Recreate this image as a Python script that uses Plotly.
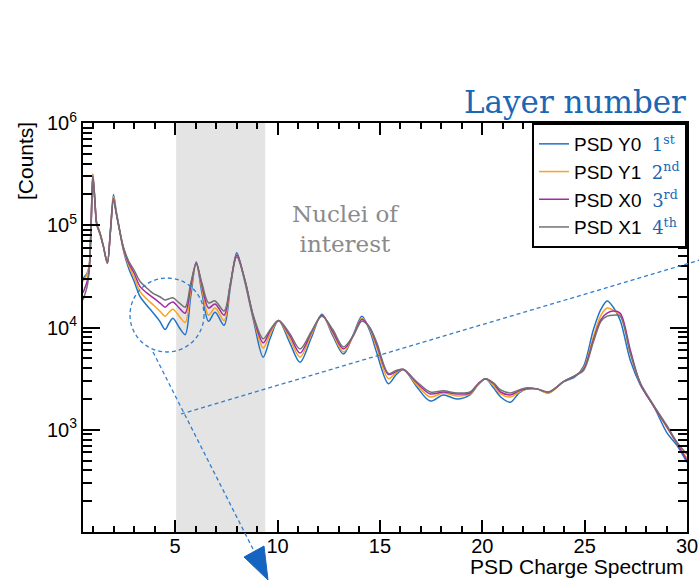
import plotly.graph_objects as go

# PSD charge spectrum per layer (counts per bin, sampled along the charge axis)
charge = [0.5, 0.7, 0.8, 0.9, 0.98, 1.08, 1.17, 1.34, 1.5, 1.69,
          1.84, 1.99, 2.12, 2.23, 2.47, 2.73, 3.0, 3.29, 3.6, 3.94,
          4.25, 4.51, 4.7, 4.89, 5.2, 5.49, 5.76, 6.03, 6.3, 6.63,
          6.95, 7.39, 7.7, 8.01, 8.4, 8.83, 9.3, 9.65, 10.05, 10.6,
          11.1, 11.65, 12.17, 12.7, 13.22, 13.7, 14.12, 14.5, 14.85, 15.42,
          15.8, 16.15, 16.8, 17.46, 18.1, 18.76, 19.4, 19.8, 20.16, 20.55,
          20.9, 21.37, 21.8, 22.18, 22.67, 23.24, 23.97, 24.54, 24.95, 25.43,
          25.8, 26.1, 26.4, 26.74, 27.23, 27.72, 28.37, 29.02, 29.5, 30.0]

psd_y0 = [30200, 33900, 39800, 112000, 316000, 178000, 105000, 83200, 61700, 42700,
          89100, 200000, 138000, 105000, 57500, 38000, 28200, 20000, 16600, 13800,
          11500, 9550, 11000, 12300, 10000, 8510, 20000, 43700, 22400, 11500,
          14100, 10500, 25100, 53700, 28200, 11700, 5130, 7940, 11700, 7080,
          4570, 7940, 13500, 8320, 5500, 8510, 12900, 9330, 5620, 2820,
          3470, 3890, 2630, 1910, 2190, 2000, 2190, 2750, 3160, 2570,
          2090, 1860, 2290, 2510, 2510, 2290, 2950, 3310, 4170, 9550,
          15100, 18200, 15800, 11700, 4790, 2750, 1700, 933, 708, 479]

psd_y1 = [28200, 33100, 39800, 112000, 316000, 174000, 105000, 83200, 61700, 42700,
          89100, 191000, 135000, 102000, 58900, 40700, 30900, 22400, 19100, 16600,
          14500, 12900, 14100, 15100, 12900, 11200, 22900, 42700, 24500, 13200,
          15500, 11700, 26300, 51300, 28800, 12300, 6310, 8710, 11700, 7760,
          5130, 8510, 13200, 8710, 5750, 8320, 12300, 9770, 6310, 3160,
          3630, 3890, 2750, 2090, 2290, 2140, 2240, 2750, 3160, 2690,
          2240, 2090, 2340, 2510, 2510, 2290, 2950, 3390, 3980, 8130,
          13200, 15500, 14800, 13200, 5620, 2820, 1700, 1050, 741, 525]

psd_x0 = [21900, 28200, 36300, 107000, 302000, 174000, 102000, 81300, 61700, 42700,
          87100, 182000, 132000, 102000, 60300, 42700, 33900, 25100, 21900, 19500,
          17400, 15800, 17000, 17800, 15500, 13800, 25100, 42700, 26300, 15500,
          17000, 13200, 26900, 51300, 29500, 12600, 7080, 9330, 11700, 8320,
          5620, 8910, 13200, 9120, 6170, 8320, 12000, 10000, 6760, 3470,
          3720, 3890, 2880, 2240, 2340, 2240, 2290, 2820, 3160, 2820,
          2340, 2190, 2400, 2510, 2510, 2340, 2950, 3390, 3890, 7590,
          12000, 13800, 14500, 13800, 6030, 2820, 1700, 1070, 741, 501]

psd_x1 = [18600, 25100, 35500, 105000, 295000, 170000, 102000, 81300, 61700, 42700,
          87100, 178000, 132000, 102000, 61700, 44700, 36300, 28200, 24500, 21400,
          20000, 18600, 19100, 19500, 17400, 15800, 26900, 41700, 27500, 17400,
          18200, 14500, 26900, 49000, 29500, 12900, 7760, 9550, 11700, 8710,
          6170, 9120, 12900, 9550, 6460, 8320, 11500, 10000, 7080, 3550,
          3800, 3890, 2950, 2340, 2400, 2290, 2340, 2820, 3160, 2880,
          2450, 2290, 2450, 2570, 2510, 2340, 2950, 3390, 3800, 7240,
          11500, 12900, 13200, 12900, 5620, 2880, 1740, 1100, 759, 575]

layer_names = ["PSD Y0", "PSD Y1", "PSD X0", "PSD X1"]
layer_order = ["1<sup>st</sup>", "2<sup>nd</sup>", "3<sup>rd</sup>", "4<sup>th</sup>"]
layer_colors = ["#1f73c8", "#f9a21c", "#a32aa3", "#727272"]

x_ticks = [5, 10, 15, 20, 25, 30]
y_ticks = [1e3, 1e4, 1e5, 1e6]
y_tick_text = ["10<sup>3</sup>", "10<sup>4</sup>", "10<sup>5</sup>", "10<sup>6</sup>"]
y_minor = [m * 10 ** e for e in range(2, 6) for m in range(2, 10)]

roi = [5.05, 9.4]  # charge window of the nuclei of interest

ACCENT = "#1a67b5"
SANS = "Liberation Sans"
SERIF = "DejaVu Serif"

fig = go.Figure()

for name, order, color, counts in zip(layer_names, layer_order, layer_colors,
                                      [psd_y0, psd_y1, psd_x0, psd_x1]):
    label = (f"{name}&nbsp;&nbsp;<span style=\"font-family:'{SERIF}';"
             f"color:{ACCENT};font-size:18px\">{order}</span>")
    fig.add_trace(go.Scatter(
        x=charge, y=counts, mode="lines", name=label,
        line=dict(color=color, width=1.5, shape="spline", smoothing=0.9),
        legendgroup=name,
    ))


def px(xp, yp):
    """Pixel position in the page -> paper coordinates of the plot area."""
    return (xp - 83) / 604, (532 - yp) / 409


shapes = [
    dict(type="rect", xref="x", yref="paper", x0=roi[0], x1=roi[1], y0=0, y1=1,
         fillcolor="#e4e4e4", line=dict(width=0), layer="below"),
]

# zoom circle around the low-charge dip
cx0, cy0 = px(130, 352)
cx1, cy1 = px(204, 278)
shapes.append(dict(type="circle", xref="paper", yref="paper",
                   x0=cx0, y0=cy0, x1=cx1, y1=cy1,
                   line=dict(color="#2f7fd0", width=1.3, dash="4px,3px")))

# pointer leaving the circle towards the bottom
lx0, ly0 = px(153, 352)
lx1, ly1 = px(255, 553)
shapes.append(dict(type="line", xref="paper", yref="paper",
                   x0=lx0, y0=ly0, x1=lx1, y1=ly1,
                   line=dict(color="#2f7fd0", width=1.3, dash="4px,3px")))
ax_, ay_ = px(244, 557)
bx_, by_ = px(264, 546)
tx_, ty_ = px(268, 580)
shapes.append(dict(type="path", xref="paper", yref="paper",
                   path=f"M {ax_} {ay_} L {bx_} {by_} L {tx_} {ty_} Z",
                   fillcolor="#1565c0", line=dict(color="#1565c0", width=1)))

# long dashed guide leaving to the right
gx0, gy0 = px(181, 414)
gx1, gy1 = px(700, 260)
shapes.append(dict(type="line", xref="paper", yref="paper",
                   x0=gx0, y0=gy0, x1=gx1, y1=gy1,
                   line=dict(color="#2f7fd0", width=1.3, dash="4px,3px")))

annotations = [
    dict(text="Layer number", xref="paper", yref="paper", x=1.002, y=(532 - 102) / 409,
         xanchor="right", yanchor="middle", showarrow=False,
         font=dict(family=SERIF, size=31, color=ACCENT)),
    dict(text="Nuclei of<br>interest", xref="paper", yref="paper",
         x=(345 - 83) / 604, y=(532 - 229) / 409, xanchor="center", yanchor="middle",
         showarrow=False, align="center",
         font=dict(family=SERIF, size=23, color="#8a8a8a")),
    dict(text="[Counts]", xref="paper", yref="paper", x=(25 - 83) / 604,
         y=(532 - 161) / 409, xanchor="center", yanchor="middle", textangle=-90,
         showarrow=False, font=dict(family=SANS, size=21, color="black")),
    dict(text="PSD Charge Spectrum", xref="paper", yref="paper", x=(686 - 83) / 604,
         y=(532 - 566) / 409, xanchor="right", yanchor="middle", showarrow=False,
         font=dict(family=SANS, size=21, color="black")),
]

fig.update_layout(
    width=699, height=580,
    margin=dict(l=83, r=12, t=123, b=48, autoexpand=False),
    paper_bgcolor="white", plot_bgcolor="white",
    font=dict(family=SANS, size=20, color="black"),
    shapes=shapes, annotations=annotations,
    showlegend=True,
    legend=dict(x=1, y=1, xanchor="right", yanchor="top",
                bgcolor="white", bordercolor="black", borderwidth=2,
                font=dict(family=SANS, size=19, color="black"),
                tracegroupgap=4, traceorder="normal"),
)

fig.update_xaxes(
    range=[0.5, 30], showgrid=False, zeroline=False,
    showline=True, linecolor="black", linewidth=2, mirror="allticks",
    ticks="inside", ticklen=12, tickwidth=2, tickcolor="black",
    tickmode="array", tickvals=x_ticks, tickfont=dict(size=20),
    ticklabelstandoff=-5,
    minor=dict(dtick=1, tick0=0, ticks="inside", ticklen=6, tickwidth=2,
               tickcolor="black", showgrid=False),
)
fig.update_yaxes(
    type="log", range=[2, 6], showgrid=False, zeroline=False,
    showline=True, linecolor="black", linewidth=2, mirror="allticks",
    ticks="inside", ticklen=17, tickwidth=2, tickcolor="black",
    tickmode="array", tickvals=y_ticks, ticktext=y_tick_text, tickfont=dict(size=20),
    minor=dict(tickmode="array", tickvals=y_minor, ticks="inside", ticklen=9,
               tickwidth=2, tickcolor="black", showgrid=False),
)

fig.write_html("out.html")
